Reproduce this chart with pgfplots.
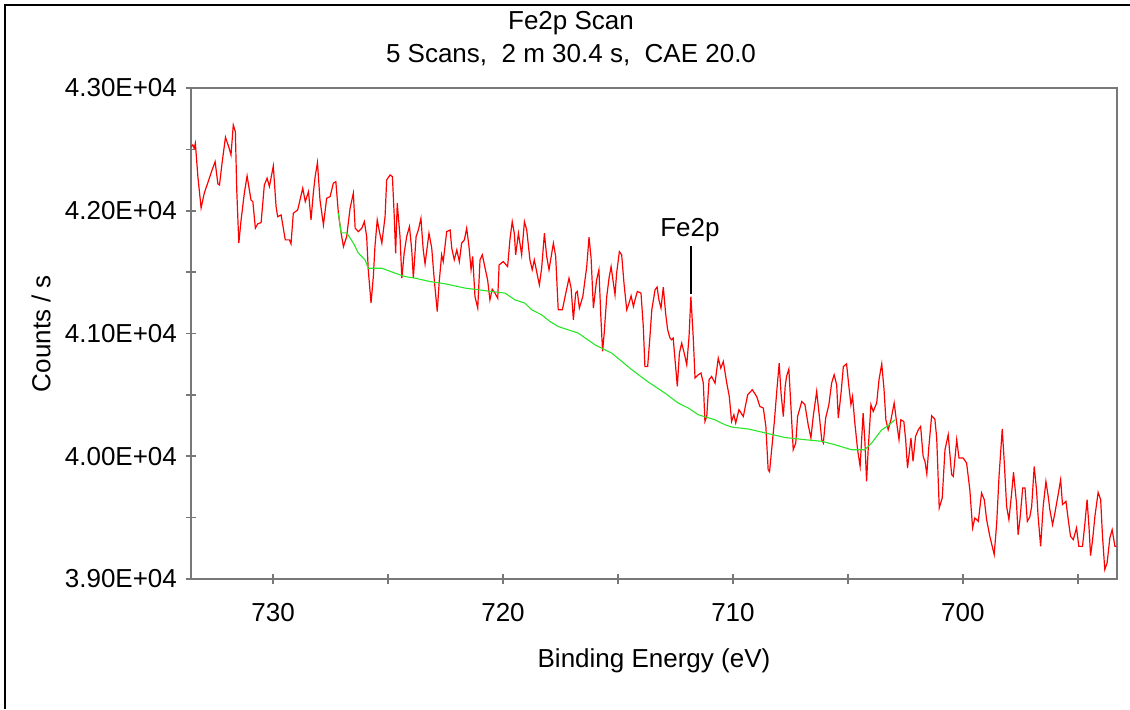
\documentclass[border=0pt]{standalone}
\usepackage{fontspec}
\setmainfont{Liberation Sans}
\usepackage{pgfplots}
\pgfplotsset{compat=1.18}
\definecolor{axisgray}{RGB}{120,120,120}
\definecolor{specred}{RGB}{255,0,0}
\definecolor{bggreen}{RGB}{40,230,40}

\begin{document}
\fontsize{13pt}{16pt}\selectfont
\begin{tikzpicture}
\useasboundingbox (-95.5pt,-65pt) rectangle (469.5pt,289.5pt);
% outer frame (left and top only)
\draw[black, line width=0.9pt] (-93pt,-65pt) -- (-93pt,287pt) -- (469.5pt,287pt);
\begin{axis}[
  scale only axis, width=463pt, height=245.5pt,
  at={(0,0)}, anchor=south west,
  x dir=reverse, xmin=693.3, xmax=733.57, ymin=39000, ymax=43000,
  scaled y ticks=false, scaled x ticks=false,
  xtick pos=bottom, ytick pos=left,
  xtick={700,710,720,730}, xticklabels={700,710,720,730},
  minor xtick={695,705,715,725},
  ytick={39000,40000,41000,42000,43000},
  yticklabels={3.90E+04,4.00E+04,4.10E+04,4.20E+04,4.30E+04},
  minor ytick={39500,40500,41500,42500},
  tick align=center, major tick length=5pt, minor tick length=5pt,
  tick style={axisgray, line width=0.8pt},
  axis line style={axisgray, line width=1pt},
  xticklabel style={yshift=-5pt},
  xlabel={Binding Energy (eV)}, ylabel={Counts / s},
  xlabel style={at={(axis description cs:0.5,-0.167)}, anchor=center},
  ylabel style={at={(axis description cs:-0.162,0.5)}, anchor=center},
]
% spectrum
\addplot[specred, line width=0.6pt, mark=none] coordinates {
(733.57,42522)(733.49,42536)(733.43,42509)(733.38,42550)(733.27,42278)(733.13,42023)(732.99,42145)(732.84,42227)(732.65,42333)(732.52,42400)(732.40,42219)(732.33,42210)(732.22,42387)(732.07,42599)(731.93,42522)(731.83,42455)(731.73,42699)(731.64,42644)(731.58,42170)(731.49,41736)(731.39,41926)(731.25,42143)(731.13,42284)(730.96,42088)(730.88,42074)(730.77,41858)(730.67,41893)(730.52,41904)(730.38,42210)(730.26,42265)(730.16,42197)(729.99,42365)(729.87,42034)(729.80,41952)(729.65,41966)(729.47,41763)(729.29,41763)(729.22,41730)(729.12,41980)(728.93,42007)(728.71,42184)(728.60,42074)(728.46,42156)(728.35,41926)(728.25,42143)(728.17,42278)(728.07,42392)(727.96,42088)(727.81,41885)(727.67,42102)(727.52,42115)(727.38,42224)(727.27,42237)(727.16,41980)(727.04,41817)(726.94,41708)(726.80,41790)(726.65,42021)(726.51,42143)(726.43,41858)(726.29,41830)(726.14,41858)(726.03,41912)(725.93,41790)(725.86,41519)(725.74,41247)(725.64,41464)(725.57,41708)(725.47,41926)(725.39,41844)(725.27,41736)(725.13,41952)(725.06,42251)(724.91,42292)(724.81,42278)(724.73,41952)(724.67,41654)(724.60,42061)(724.48,41790)(724.40,41451)(724.30,41654)(724.19,41790)(724.07,41871)(723.97,41681)(723.90,41451)(723.78,41790)(723.68,41844)(723.57,41939)(723.47,41681)(723.39,41567)(723.22,41817)(723.10,41695)(722.99,41437)(722.86,41179)(722.78,41410)(722.67,41641)(722.60,41586)(722.45,41830)(722.30,41844)(722.23,41695)(722.12,41600)(722.01,41681)(721.90,41586)(721.80,41736)(721.68,41763)(721.58,41858)(721.48,41708)(721.39,41519)(721.32,41627)(721.22,41301)(721.10,41207)(721.00,41600)(720.90,41641)(720.78,41532)(720.67,41437)(720.57,41274)(720.47,41361)(720.35,41329)(720.23,41288)(720.17,41559)(719.99,41586)(719.80,41545)(719.70,41763)(719.60,41912)(719.51,41817)(719.45,41641)(719.33,41817)(719.19,41641)(719.07,41912)(718.97,41844)(718.83,41600)(718.73,41519)(718.64,41600)(718.42,41396)(718.32,41532)(718.20,41817)(718.10,41627)(718.00,41519)(717.81,41736)(717.71,41627)(717.60,41193)(717.42,41193)(717.27,41329)(717.13,41451)(717.04,41370)(716.94,41112)(716.84,41329)(716.77,41342)(716.68,41207)(716.53,41301)(716.36,41545)(716.26,41785)(716.17,41614)(716.07,41207)(715.93,41437)(715.83,41519)(715.74,41112)(715.67,40854)(715.60,41003)(715.49,41301)(715.39,41451)(715.30,41545)(715.13,41315)(715.06,41492)(714.94,41667)(714.84,41641)(714.74,41410)(714.62,41193)(714.52,41247)(714.43,41307)(714.33,41220)(714.26,41274)(714.16,41342)(714.00,41329)(713.90,41057)(713.83,40731)(713.71,40731)(713.61,40976)(713.53,41193)(713.39,41356)(713.30,41378)(713.22,41274)(713.13,41207)(713.03,41378)(712.93,41166)(712.84,41030)(712.74,40963)(712.67,40949)(712.60,40963)(712.52,40786)(712.42,40569)(712.33,40840)(712.23,40922)(712.12,40840)(712.01,40745)(711.91,40976)(711.83,41301)(711.73,40976)(711.65,40637)(711.51,40664)(711.39,40678)(711.29,40596)(711.22,40284)(711.14,40324)(711.04,40623)(710.93,40650)(710.78,40596)(710.64,40800)(710.53,40718)(710.42,40772)(710.27,40596)(710.16,40487)(710.06,40284)(709.96,40338)(709.88,40271)(709.74,40379)(709.55,40324)(709.36,40501)(709.16,40542)(708.97,40487)(708.83,40406)(708.68,40393)(708.57,40243)(708.47,39890)(708.41,39874)(708.20,40284)(708.09,40542)(707.99,40759)(707.91,40515)(707.81,40324)(707.73,40569)(707.67,40650)(707.57,40710)(707.48,40406)(707.38,40053)(707.27,40108)(707.19,40324)(707.01,40446)(706.87,40420)(706.73,40257)(706.61,40149)(706.51,40324)(706.36,40528)(706.25,40338)(706.14,40135)(706.07,40108)(705.97,40311)(705.83,40420)(705.71,40596)(705.60,40664)(705.49,40582)(705.42,40311)(705.30,40515)(705.20,40731)(705.06,40753)(704.96,40569)(704.87,40420)(704.80,40487)(704.70,40271)(704.58,40053)(704.47,39917)(704.34,40352)(704.26,40108)(704.19,39795)(704.12,40053)(704.00,40420)(703.90,40365)(703.75,40434)(703.65,40623)(703.53,40753)(703.43,40542)(703.35,40297)(703.25,40216)(703.13,40297)(702.99,40434)(702.88,40271)(702.78,40135)(702.70,40297)(702.57,40284)(702.49,40135)(702.41,39904)(702.35,39999)(702.26,40149)(702.17,39958)(702.06,40162)(701.94,40216)(701.84,40243)(701.73,39999)(701.65,39958)(701.57,39856)(701.48,40080)(701.36,40330)(701.22,40303)(701.14,40149)(701.03,39579)(700.90,39660)(700.78,40053)(700.64,40175)(700.49,39850)(700.42,39836)(700.27,40135)(700.17,39986)(699.99,39986)(699.84,39945)(699.70,39728)(699.58,39416)(699.48,39497)(699.33,39470)(699.19,39701)(699.07,39646)(698.97,39484)(698.83,39348)(698.64,39199)(698.53,39457)(698.43,39836)(698.29,40222)(698.20,39945)(698.10,39592)(698.00,39484)(697.88,39701)(697.80,39870)(697.67,39619)(697.60,39361)(697.52,39484)(697.40,39742)(697.30,39742)(697.20,39470)(697.09,39506)(697.01,39592)(696.90,39917)(696.80,39728)(696.73,39510)(696.62,39266)(696.51,39592)(696.39,39795)(696.29,39673)(696.22,39565)(696.10,39443)(696.00,39538)(695.86,39687)(695.75,39809)(695.67,39606)(695.52,39633)(695.42,39484)(695.32,39348)(695.20,39321)(695.06,39416)(694.96,39266)(694.80,39266)(694.70,39443)(694.60,39646)(694.51,39402)(694.45,39190)(694.36,39321)(694.26,39510)(694.12,39706)(694.01,39646)(693.93,39348)(693.83,39077)(693.73,39131)(693.61,39335)(693.51,39402)(693.39,39266)(693.32,39266)
};
% background
\addplot[bggreen, line width=0.55pt, mark=none] coordinates {
(727.16,41980)(727.04,41820)(726.80,41820)(726.51,41738)(726.30,41657)(726.00,41600)(725.86,41532)(725.27,41532)(724.70,41492)(724.26,41464)(723.83,41451)(723.17,41423)(722.52,41405)(721.65,41370)(720.49,41342)(719.91,41329)(719.48,41274)(719.04,41247)(718.75,41193)(718.32,41152)(717.96,41098)(717.60,41057)(716.73,41003)(716.00,40908)(715.27,40840)(714.40,40705)(713.70,40607)(712.96,40515)(712.38,40433)(711.94,40393)(711.51,40338)(710.78,40297)(710.35,40257)(710.06,40238)(709.33,40222)(707.74,40153)(706.87,40135)(706.14,40122)(705.57,40094)(704.84,40053)(704.26,40053)(703.97,40108)(703.53,40216)(703.25,40249)(702.96,40297)
};
% peak label
\draw[black, line width=0.7pt] (axis cs:711.83,41320) -- (axis cs:711.83,41710);
\node[anchor=base] at (axis cs:711.87,41787) {Fe2p};
\end{axis}
\node[anchor=base] at (190pt,274.9pt) {Fe2p Scan};
\node[anchor=base] at (190pt,258.4pt) {5 Scans,\ \ 2 m 30.4 s,\ \ CAE 20.0};
\end{tikzpicture}
\end{document}
